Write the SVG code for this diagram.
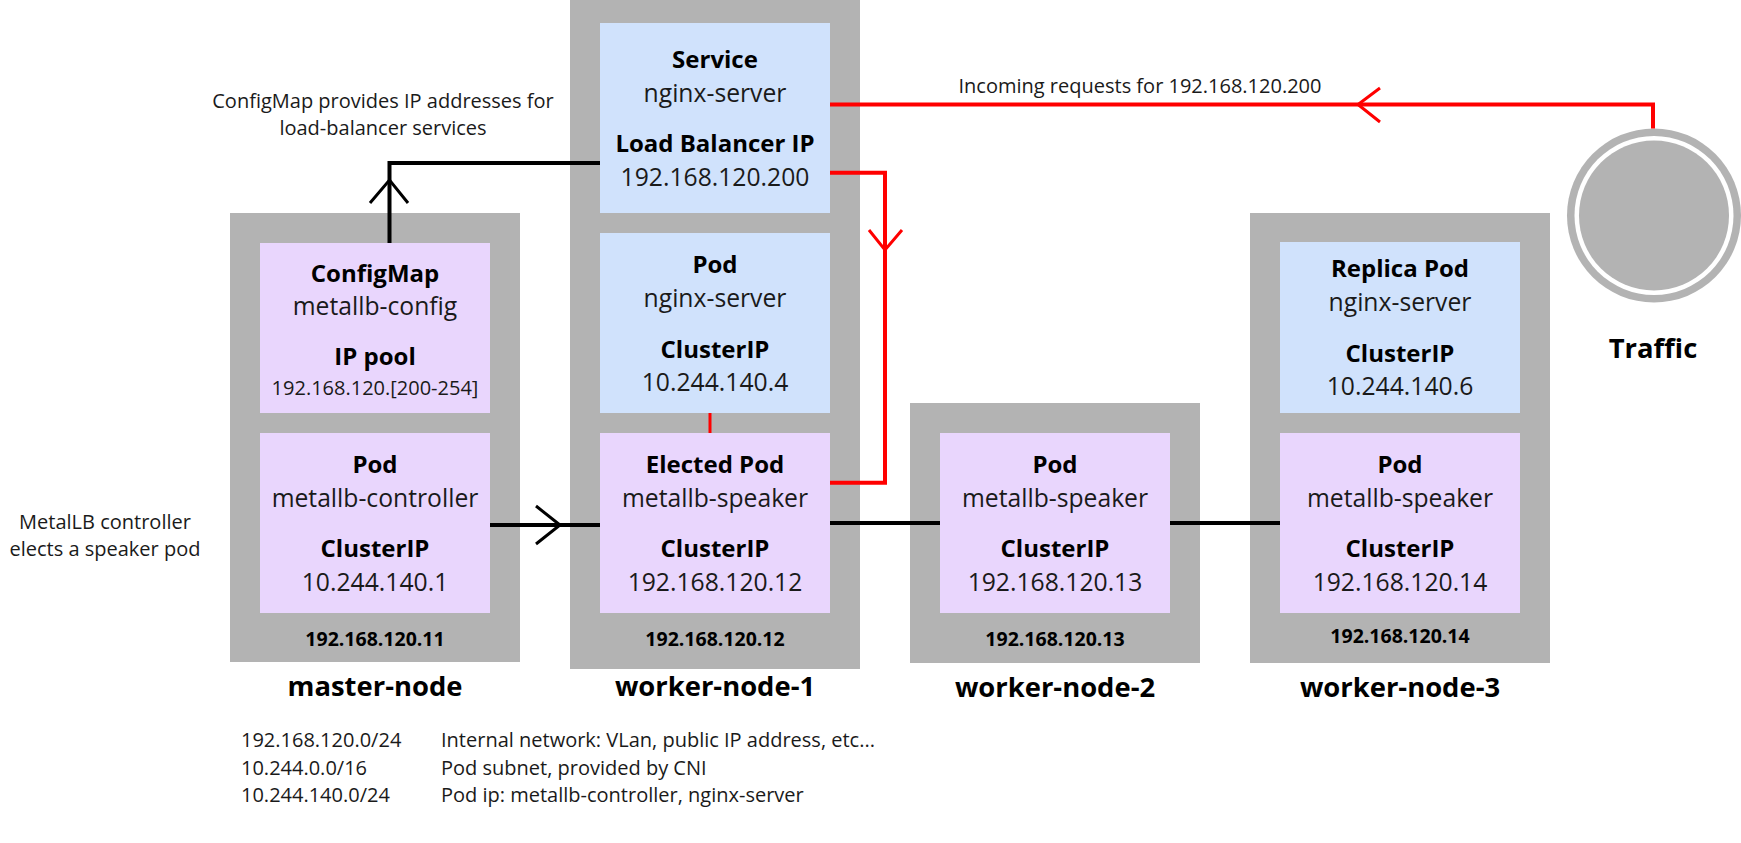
<svg xmlns="http://www.w3.org/2000/svg" width="1741" height="843" viewBox="0 0 1741 843">
<style>
.node{fill:#b3b3b3}
.blue{fill:#d0e2fc}
.purple{fill:#e9d6fd}
text{font-family:"Open Sans","DejaVu Sans",sans-serif;text-anchor:middle}
.b{font-weight:700;font-size:24px;fill:#000}
.r{font-size:24.7px;fill:#1a1a1a}
.s{font-size:20px;fill:#1a1a1a}
.ip{font-weight:700;font-size:19.5px;fill:#000}
.nn{font-weight:700;font-size:27.4px;fill:#000}
.l{text-anchor:start}
.conn{fill:none;stroke-width:4;stroke-linejoin:miter;stroke-linecap:butt}
.arr{fill:none;stroke-width:3}
.k{stroke:#000}
.red{stroke:#ff0000}
</style>
<rect width="1741" height="843" fill="#fff"/>

<g id="master-node">
<rect class="node" x="230" y="213" width="290" height="449"/>
<text class="ip" x="375" y="646">192.168.120.11</text>
<text class="nn" x="375" y="696">master-node</text>
</g>
<g id="configmap">
<rect class="purple" x="260" y="243" width="230" height="170"/>
<text class="b" x="375" y="282">ConfigMap</text>
<text class="r" x="375" y="315">metallb-config</text>
<text class="b" x="375" y="365">IP pool</text>
<text class="s" x="375" y="395">192.168.120.[200-254]</text>
</g>
<g id="metallb-controller">
<rect class="purple" x="260" y="433" width="230" height="180"/>
<text class="b" x="375" y="473">Pod</text>
<text class="r" x="375" y="506.5">metallb-controller</text>
<text class="b" x="375" y="557">ClusterIP</text>
<text class="r" x="375" y="590.5">10.244.140.1</text>
</g>

<g id="worker-node-1">
<rect class="node" x="570" y="0" width="290" height="669"/>
<text class="ip" x="715" y="646">192.168.120.12</text>
<text class="nn" x="715" y="696">worker-node-1</text>
</g>
<g id="service">
<rect class="blue" x="600" y="23" width="230" height="190"/>
<text class="b" x="715" y="68">Service</text>
<text class="r" x="715" y="101.5">nginx-server</text>
<text class="b" x="715" y="152">Load Balancer IP</text>
<text class="r" x="715" y="185.5">192.168.120.200</text>
</g>
<g id="nginx-pod">
<rect class="blue" x="600" y="233" width="230" height="180"/>
<text class="b" x="715" y="273">Pod</text>
<text class="r" x="715" y="306.5">nginx-server</text>
<text class="b" x="715" y="358">ClusterIP</text>
<text class="r" x="715" y="391">10.244.140.4</text>
</g>
<g id="elected-speaker">
<rect class="purple" x="600" y="433" width="230" height="180"/>
<text class="b" x="715" y="473">Elected Pod</text>
<text class="r" x="715" y="506.5">metallb-speaker</text>
<text class="b" x="715" y="557">ClusterIP</text>
<text class="r" x="715" y="590.5">192.168.120.12</text>
</g>

<g id="worker-node-2">
<rect class="node" x="910" y="403" width="290" height="260"/>
<text class="ip" x="1055" y="646">192.168.120.13</text>
<text class="nn" x="1055" y="697">worker-node-2</text>
</g>
<g id="speaker-2">
<rect class="purple" x="940" y="433" width="230" height="180"/>
<text class="b" x="1055" y="473">Pod</text>
<text class="r" x="1055" y="506.5">metallb-speaker</text>
<text class="b" x="1055" y="557">ClusterIP</text>
<text class="r" x="1055" y="590.5">192.168.120.13</text>
</g>

<g id="worker-node-3">
<rect class="node" x="1250" y="213" width="300" height="450"/>
<text class="ip" x="1400" y="643">192.168.120.14</text>
<text class="nn" x="1400" y="697">worker-node-3</text>
</g>
<g id="replica-pod">
<rect class="blue" x="1280" y="242" width="240" height="171"/>
<text class="b" x="1400" y="277">Replica Pod</text>
<text class="r" x="1400" y="311">nginx-server</text>
<text class="b" x="1400" y="362">ClusterIP</text>
<text class="r" x="1400" y="395">10.244.140.6</text>
</g>
<g id="speaker-3">
<rect class="purple" x="1280" y="433" width="240" height="180"/>
<text class="b" x="1400" y="473">Pod</text>
<text class="r" x="1400" y="506.5">metallb-speaker</text>
<text class="b" x="1400" y="557">ClusterIP</text>
<text class="r" x="1400" y="590.5">192.168.120.14</text>
</g>

<g id="traffic">
<circle cx="1654" cy="215.5" r="87" fill="#b3b3b3"/>
<circle cx="1654" cy="215.5" r="79.5" fill="#fff"/>
<circle cx="1654" cy="215.5" r="75" fill="#b3b3b3"/>
<text class="nn" x="1653" y="358">Traffic</text>
</g>

<g id="connectors">
<path class="conn k" d="M600,163 H389.5 V243"/>
<path class="arr k" d="M370,203 L389.5,180 L408,203"/>
<path class="conn k" d="M490,525 H600"/>
<path class="arr k" d="M536,506 L560,525 L536,544"/>
<path class="conn k" d="M830,523 H940"/>
<path class="conn k" d="M1170,523 H1280"/>
<path class="conn red" d="M830,104.5 H1653 V128.5"/>
<path class="arr red" d="M1380,88 L1358,104.5 L1380,122"/>
<path class="conn red" d="M830,172.7 H885 V482.7 H830"/>
<path class="arr red" d="M869,230 L885,250 L902,230"/>
<path class="red" stroke-width="3" d="M710,413 V433"/>
</g>

<g id="annotations">
<text class="s" x="383" y="108">ConfigMap provides IP addresses for</text>
<text class="s" x="383" y="135">load-balancer services</text>
<text class="s" x="1140" y="93">Incoming requests for 192.168.120.200</text>
<text class="s" x="105" y="529">MetalLB controller</text>
<text class="s" x="105" y="556">elects a speaker pod</text>
</g>

<g id="legend">
<text class="s l" x="241" y="747">192.168.120.0/24</text>
<text class="s l" x="441" y="747">Internal network: VLan, public IP address, etc...</text>
<text class="s l" x="241" y="775">10.244.0.0/16</text>
<text class="s l" x="441" y="775">Pod subnet, provided by CNI</text>
<text class="s l" x="241" y="802">10.244.140.0/24</text>
<text class="s l" x="441" y="802">Pod ip: metallb-controller, nginx-server</text>
</g>
</svg>
